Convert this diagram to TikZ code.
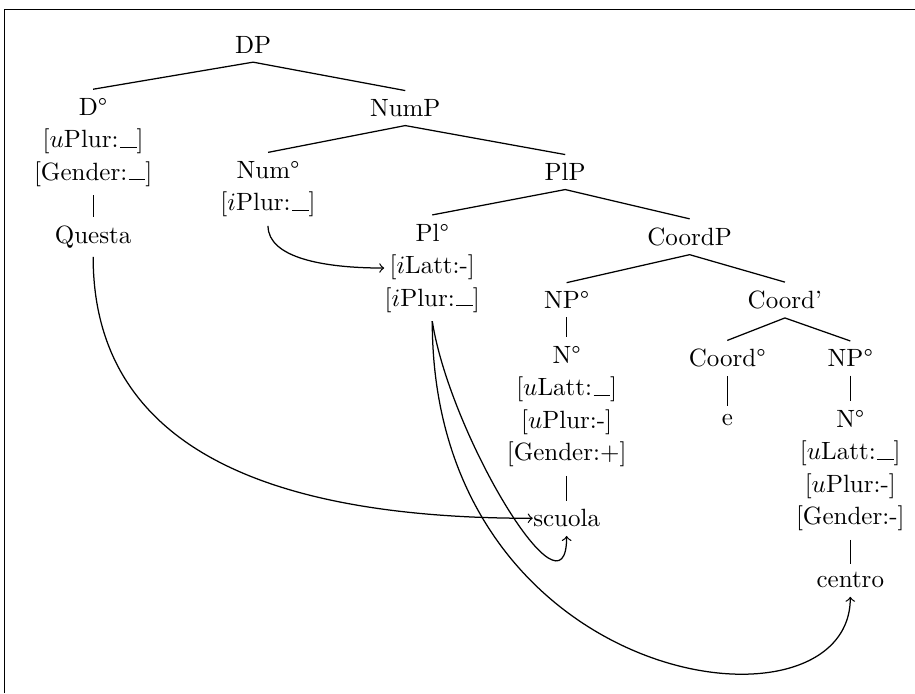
\documentclass[tikz,border=0pt]{standalone}
\usepackage{amsmath}
\usepackage{xcolor}
\usepackage{tikz}
\usetikzlibrary{positioning, calc}

% blank feature value
\newcommand{\featgap}{\kern.06em\vbox{\hrule width.66em}}

\begin{document}
\begin{tikzpicture}[
        lbl/.style={align=center, inner xsep=0pt, font=\fontsize{10}{13}\selectfont},
        tedge/.style={line width=0.5pt},
        agree/.style={->, line width=0.5pt}
    ]
        \useasboundingbox (0,0) rectangle (12.87,-9.75);

        % Frame round the tree
        \draw (0.07,-9.75) -- (0.07,-0.14) -- (12.87,-0.14);

        % Tree labels
        \node[lbl] (dp) at (3.56,-0.63) {DP};
        \node[lbl] (dhead) at (1.31,-2.00) {D°\\ {[}$u$Plur:\featgap{]}\\ {[}Gender:\featgap{]}};
        \node[lbl] (questa) at (1.31,-3.33) {Questa};
        \node[lbl] (nump) at (5.70,-1.52) {NumP};
        \node[lbl] (numhead) at (3.77,-2.66) {Num°\\ {[}$i$Plur:\featgap{]}};
        \node[lbl] (plp) at (7.95,-2.42) {PlP};
        \node[lbl] (plhead) at (6.08,-3.77) {Pl°\\ {[}$i$Latt:-{]}\\ {[}$i$Plur:\featgap{]}};
        \node[lbl] (coordp) at (9.70,-3.33) {CoordP};
        \node[lbl] (npa) at (7.97,-4.22) {NP°};
        \node[lbl] (na) at (7.97,-5.72) {N°\\ {[}$u$Latt:\featgap{]}\\ {[}$u$Plur:-{]}\\ {[}Gender:+{]}};
        \node[lbl] (scuola) at (7.97,-7.29) {scuola};
        \node[lbl] (coordbar) at (11.04,-4.22) {Coord'};
        \node[lbl] (coordhead) at (10.23,-5.04) {Coord°};
        \node[lbl] (e) at (10.23,-5.91) {e};
        \node[lbl] (npb) at (11.96,-5.04) {NP°};
        \node[lbl] (nb) at (11.96,-6.62) {N°\\ {[}$u$Latt:\featgap{]}\\ {[}$u$Plur:-{]}\\ {[}Gender:-{]}};
        \node[lbl] (centro) at (11.96,-8.16) {centro};

        % Branches
        \draw[tedge] (dhead.north) -- (dp.south) -- (nump.north);
        \draw[tedge] (dhead.south) -- (questa.north);
        \draw[tedge] (numhead.north) -- (nump.south) -- (plp.north);
        \draw[tedge] (plhead.north) -- (plp.south) -- (coordp.north);
        \draw[tedge] (npa.north) -- (coordp.south) -- (coordbar.north);
        \draw[tedge] (npa.south) -- (na.north);
        \draw[tedge] (na.south) -- (scuola.north);
        \draw[tedge] (coordhead.north) -- (coordbar.south) -- (npb.north);
        \draw[tedge] (coordhead.south) -- (e.north);
        \draw[tedge] (npb.south) -- (nb.north);
        \draw[tedge] (nb.south) -- (centro.north);

        % Agreement arrows
        \draw[agree] (numhead.south) .. controls +(0,-0.45) and +(-0.85,0) .. (plhead.west);
        \draw[agree] (questa.south) .. controls +(0,-2.8) and +(-3.5,0) .. (scuola.west);
        \draw[agree] (plhead.south) .. controls +(0.25,-1.6) and +(0,-1.3) .. (scuola.south);
        \draw[agree] (plhead.south) .. controls +(0,-5.2) and +(0,-2.1) .. (centro.south);

    \end{tikzpicture}
\end{document}
